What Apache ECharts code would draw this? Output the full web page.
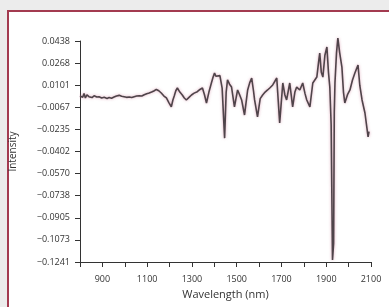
<!DOCTYPE html>
<html>
<head>
<meta charset="utf-8">
<script src="https://cdn.jsdelivr.net/npm/echarts@6/dist/echarts.min.js"></script>
<style>
  html, body { margin: 0; padding: 0; background: #ececec; }
  #chart { width: 389px; height: 307px; }
</style>
</head>
<body>
<div id="chart"></div>
<script>
  // spectrum: wavelength (nm) and intensity
  const wavelength = [
    800, 806, 812, 818, 824, 831, 840, 848, 854, 863, 875, 885, 897, 908, 915, 921, 930, 941, 952, 963,
    975, 986, 997, 1008, 1020, 1031, 1042, 1053, 1064, 1076, 1087, 1098, 1109, 1120, 1130, 1141, 1152, 1163, 1175, 1186,
    1197, 1208, 1215, 1221, 1228, 1235, 1246, 1257, 1266, 1275, 1287, 1298, 1310, 1324, 1336, 1347, 1356, 1365, 1376, 1387,
    1394, 1401, 1407, 1414, 1425, 1435, 1446, 1453, 1459, 1468, 1477, 1490, 1504, 1513, 1522, 1535, 1549, 1558, 1567, 1575,
    1580, 1593, 1605, 1616, 1627, 1638, 1650, 1661, 1679, 1692, 1706, 1715, 1723, 1737, 1750, 1760, 1768, 1782, 1795, 1805,
    1813, 1827, 1840, 1858, 1866, 1871, 1878, 1885, 1894, 1903, 1910, 1916, 1922, 1928, 1933, 1936, 1939, 1946, 1952, 1960,
    1970, 1977, 1983, 1995, 2006, 2017, 2028, 2042, 2050, 2060, 2073, 2087, 2091
  ]
  const intensity = [
    0.0020, 0.0035, 0.0010, 0.0040, 0.0005, 0.0028, 0.0015, 0.0025, 0.0008, 0.0022, 0.0012, 0.0015, 0.0005, 0.0010, -0.0005, 0.0002, 0.0008, 0.0003, 0.0012, 0.0020,
    0.0025, 0.0018, 0.0015, 0.0010, 0.0013, 0.0008, 0.0015, 0.0020, 0.0022, 0.0020, 0.0030, 0.0038, 0.0043, 0.0050, 0.0058, 0.0070, 0.0060, 0.0043, 0.0020, 0.0005,
    -0.0030, -0.0063, -0.0010, 0.0020, 0.0060, 0.0081, 0.0050, 0.0028, 0.0005, -0.0010, 0.0010, 0.0028, 0.0042, 0.0053, 0.0070, 0.0081, 0.0030, -0.0033, 0.0050, 0.0119,
    0.0160, 0.0195, 0.0170, 0.0157, 0.0175, 0.0080, -0.0300, 0.0050, 0.0142, 0.0110, 0.0088, -0.0063, 0.0066, 0.0030, -0.0010, -0.0124, 0.0066, 0.0120, 0.0157, 0.0060,
    -0.0010, -0.0139, 0.0000, 0.0028, 0.0050, 0.0066, 0.0085, 0.0104, 0.0157, -0.0185, 0.0119, 0.0030, -0.0010, 0.0119, -0.0063, 0.0050, 0.0088, 0.0066, 0.0119, 0.0040,
    -0.0010, -0.0063, 0.0119, 0.0164, 0.0280, 0.0347, 0.0200, 0.0164, 0.0330, 0.0392, 0.0200, 0.0088, -0.0200, -0.1226, -0.1100, -0.0100, 0.0119, 0.0350, 0.0461, 0.0350,
    0.0240, 0.0050, -0.0033, 0.0030, 0.0066, 0.0140, 0.0195, 0.0256, 0.0100, -0.0010, -0.0109, -0.0291, -0.0250
  ]
  const yTickLabels = ['0.0438', '0.0268', '0.0101', '\u22120.0067', '\u22120.0235', '\u22120.0402',
    '\u22120.0570', '\u22120.0738', '\u22120.0905', '\u22120.1073', '\u22120.1241']
  const xTickLabels = [900, 1100, 1300, 1500, 1700, 1900, 2100]

  const yMax = 0.0438
  const yMin = -0.1241
  const yStep = (yMax - yMin) / (yTickLabels.length - 1)
  const yTickValues = yTickLabels.map((t, i) => yMax - i * yStep)

  const font = '"Open Sans", "Noto Sans", sans-serif'

  const chart = echarts.init(document.getElementById('chart'))
  chart.setOption({
    animation: false,
    backgroundColor: '#ececec',
    graphic: [{
      type: 'rect',
      z: -10,
      shape: {x: 8, y: 11, width: 400, height: 320},
      style: {fill: '#ffffff', stroke: '#a33b50', lineWidth: 2}
    }],
    grid: {left: 80, right: 18, top: 41, bottom: 45},
    xAxis: {
      type: 'value',
      min: 800,
      max: 2100,
      interval: 100,
      name: 'Wavelength (nm)',
      nameLocation: 'middle',
      nameGap: 27,
      nameTextStyle: {fontFamily: font, fontSize: 11, color: '#333'},
      splitLine: {show: false},
      axisLine: {onZero: false, lineStyle: {color: '#333', width: 1}},
      axisTick: {length: 5, lineStyle: {color: '#333'}},
      axisLabel: {
        margin: 13,
        fontFamily: font,
        fontSize: 9,
        color: '#333',
        formatter: v => xTickLabels.includes(Math.round(v)) ? String(Math.round(v)) : ''
      }
    },
    yAxis: {
      type: 'value',
      min: yMin,
      max: yMax,
      name: 'Intensity',
      nameLocation: 'middle',
      nameGap: 62,
      nameTextStyle: {fontFamily: font, fontSize: 10, color: '#333'},
      splitLine: {show: false},
      axisLine: {show: true, onZero: false, lineStyle: {color: '#333', width: 1}},
      axisTick: {show: true, length: 5, lineStyle: {color: '#333'}, customValues: yTickValues},
      axisLabel: {
        margin: 10,
        fontFamily: font,
        fontSize: 9,
        color: '#333',
        customValues: yTickValues,
        formatter: v => {
          const i = Math.round((yMax - v) / yStep)
          return yTickLabels[i] || ''
        }
      }
    },
    series: [{
      type: 'line',
      data: wavelength.map((w, i) => [w, intensity[i]]),
      showSymbol: false,
      clip: false,
      lineStyle: {
        color: '#4f444a',
        width: 1.6,
        shadowColor: 'rgba(200, 110, 140, 0.6)',
        shadowBlur: 3
      }
    }]
  })
</script>
</body>
</html>
